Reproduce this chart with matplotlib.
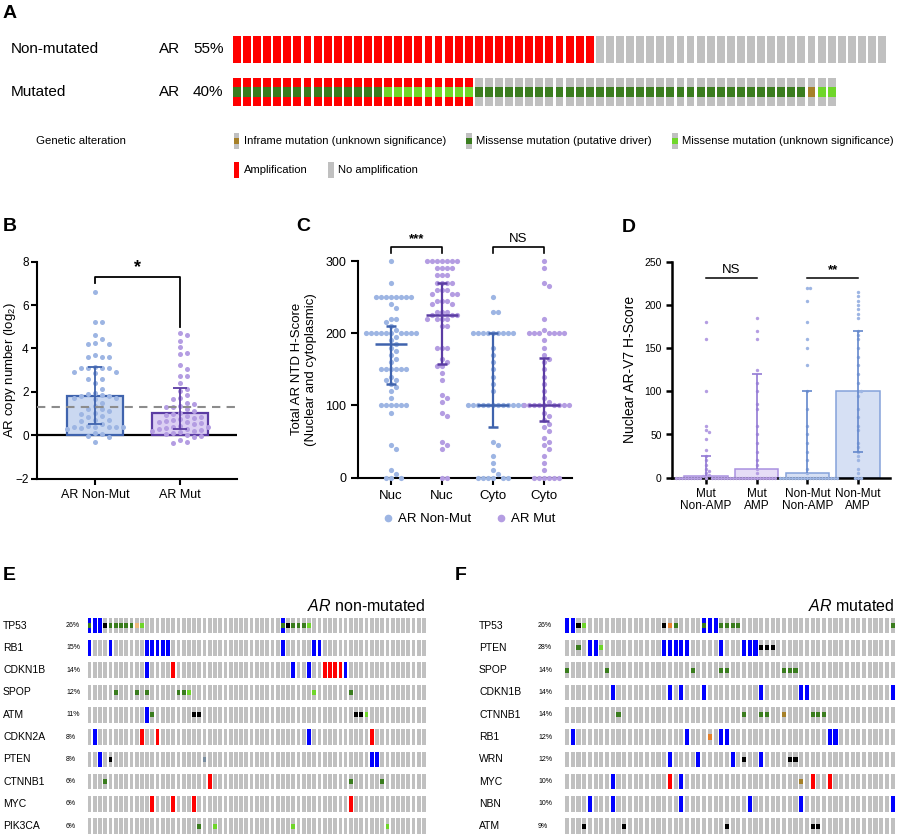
import matplotlib
matplotlib.use("Agg")
import matplotlib.pyplot as plt
import matplotlib.transforms as mtransforms
from matplotlib.patches import Rectangle
from matplotlib.lines import Line2D
import numpy as np

plt.rcParams['font.family'] = ['Liberation Sans', 'DejaVu Sans']
plt.rcParams['mathtext.fontset'] = 'custom'
plt.rcParams['mathtext.rm'] = 'Liberation Sans'
plt.rcParams['mathtext.it'] = 'Liberation Sans:italic'

W, H = 900, 838

# ------------------------------------------------------------------
# data
# ------------------------------------------------------------------

# A: AR oncoprint
a_rows = ['Non-mutated', 'Mutated']
a_pcts = ['55%', '40%']
a_samples = [65, 60]
a_amp = [36, 24]
a_mut_row = 'M' * 15 + 'V' * 9 + 'M' * 33 + 'I' + 'V' * 2   # mutated cohort, per sample

# B: AR copy number (log2)
b_groups = ['AR Non-Mut', 'AR Mut']
b_nonmut = [6.6, 5.2, 5.2, 4.6, 4.45, 4.25, 4.2, 4.2, 3.7, 3.6, 3.6, 3.6, 3.15, 3.1, 3.1,
            3.1, 3.1, 2.9, 2.9, 2.85, 2.6, 2.6, 2.4, 2.15, 1.95, 1.9, 1.85, 1.8, 1.8, 1.7,
            1.7, 1.65, 1.5, 1.35, 1.2, 1.2, 1.1, 1.05, 1.0, 0.9, 0.85, 0.7, 0.7, 0.65, 0.5,
            0.45, 0.4, 0.4, 0.4, 0.4, 0.4, 0.35, 0.3, 0.1, 0.05, -0.05, -0.1, -0.3]
b_mut = [4.7, 4.6, 4.35, 4.05, 3.8, 3.75, 3.25, 3.05, 2.75, 2.75, 2.4, 2.15, 2.05, 1.85,
         1.7, 1.65, 1.5, 1.45, 1.35, 1.3, 1.3, 1.2, 1.1, 1.05, 1.0, 0.95, 0.9, 0.85, 0.8,
         0.75, 0.7, 0.65, 0.6, 0.6, 0.55, 0.5, 0.45, 0.4, 0.4, 0.35, 0.3, 0.3, 0.25, 0.2,
         0.2, 0.15, 0.1, 0.05, 0.0, -0.05, -0.1, -0.2, -0.3, -0.35]
b_bar = [1.8, 1.03]
b_lo = [0.52, 0.27]
b_hi = [3.15, 2.2]
b_cutoff = 1.3

# C: total AR NTD H-score
c_labels = ['Nuc', 'Nuc', 'Cyto', 'Cyto']
c_nuc_nonmut = [300, 270, 250, 250, 250, 250, 250, 250, 250, 250, 240, 235, 220, 220, 215,
                210, 205, 200, 200, 200, 200, 200, 200, 200, 200, 200, 200, 195, 190, 185,
                180, 175, 170, 165, 160, 150, 150, 150, 150, 150, 150, 140, 135, 135, 130,
                125, 120, 110, 100, 100, 100, 100, 100, 100, 90, 45, 40, 10, 5, 0, 0, 0]
c_nuc_mut = [300, 300, 300, 300, 300, 300, 300, 290, 290, 290, 290, 280, 280, 280, 270,
             270, 270, 270, 260, 260, 260, 255, 255, 255, 245, 245, 245, 240, 240, 230,
             230, 230, 225, 225, 225, 220, 220, 220, 220, 210, 210, 180, 180, 180, 165,
             160, 155, 155, 145, 135, 115, 110, 105, 90, 85, 50, 45, 40, 0, 0]
c_cyto_nonmut = [250, 230, 230, 200, 200, 200, 200, 200, 200, 200, 200, 200, 180, 170, 160,
                 150, 140, 130, 120, 100, 100, 100, 100, 100, 100, 100, 100, 100, 100, 100,
                 100, 50, 45, 30, 20, 10, 5, 0, 0, 0, 0, 0, 0]
c_cyto_mut = [300, 290, 270, 265, 220, 205, 200, 200, 200, 200, 200, 200, 200, 190, 180,
              170, 165, 160, 150, 140, 130, 120, 110, 105, 100, 100, 100, 100, 100, 100,
              100, 100, 100, 90, 85, 80, 75, 70, 65, 55, 50, 45, 40, 30, 20, 10, 0, 0, 0,
              0, 0, 0]
c_median = [185, 225, 100, 100]
c_q1 = [130, 158, 70, 78]
c_q3 = [210, 270, 200, 166]

# D: nuclear AR-V7 H-score
d_labels = ['Mut\nNon-AMP', 'Mut\nAMP', 'Non-Mut\nNon-AMP', 'Non-Mut\nAMP']
d_mut_nonamp = [180, 160, 100, 60, 55, 53, 45, 32, 25, 20, 15, 10, 8, 5, 3, 2,
                0, 0, 0, 0, 0, 0, 0, 0, 0, 0, 0, 0, 0, 0, 0, 0, 0, 0, 0, 0]
d_mut_amp = [185, 170, 160, 125, 110, 100, 85, 80, 60, 50, 40, 30, 20, 15, 10, 5,
             0, 0, 0, 0, 0, 0, 0, 0, 0, 0, 0, 0]
d_nonmut_nonamp = [220, 220, 205, 180, 160, 150, 130, 100, 80, 60, 50, 40, 30, 20, 10, 5,
                   0, 0, 0, 0, 0, 0, 0, 0, 0, 0, 0, 0, 0, 0, 0, 0, 0, 0, 0, 0]
d_nonmut_amp = [215, 210, 205, 200, 195, 190, 185, 170, 165, 160, 150, 140, 130, 120, 110,
                100, 100, 95, 80, 70, 60, 55, 40, 35, 30, 25, 20, 10, 5, 0, 0, 0]
d_bar = [2, 10, 5, 100]
d_lo = [2, 10, 5, 30]
d_hi = [25, 120, 100, 170]

# E / F: co-alteration oncoprints
# codes: A amplification, D deep deletion, M missense (driver), V missense (VUS),
#        T truncating, S splice, P splice (VUS), I inframe (VUS), O other
e_genes = ['TP53', 'RB1', 'CDKN1B', 'SPOP', 'ATM', 'CDKN2A', 'PTEN', 'CTNNB1', 'MYC', 'PIK3CA']
e_pcts = ['26%', '15%', '14%', '12%', '11%', '8%', '8%', '6%', '6%', '6%']
e_samples = 65
e_alts = [
    {0: 'DM', 1: 'D', 2: 'D', 3: 'T', 4: 'M', 5: 'M', 6: 'M', 7: 'M', 8: 'M', 9: 'P', 10: 'V',
     37: 'DM', 38: 'T', 39: 'M', 40: 'M', 41: 'M', 42: 'V'},
    {0: 'D', 4: 'D', 11: 'D', 12: 'D', 13: 'D', 14: 'D', 15: 'D', 37: 'D', 43: 'D', 44: 'D'},
    {11: 'D', 16: 'A', 39: 'D', 42: 'D', 45: 'A', 46: 'A', 47: 'A', 48: 'A', 49: 'D'},
    {5: 'M', 9: 'M', 11: 'M', 17: 'M', 18: 'M', 19: 'V', 43: 'V', 50: 'M'},
    {11: 'D', 12: 'M', 20: 'T', 21: 'T', 51: 'T', 52: 'T', 53: 'V'},
    {1: 'D', 10: 'A', 13: 'A', 42: 'D', 54: 'A'},
    {2: 'D', 4: 'T', 22: 'O', 54: 'D', 55: 'D'},
    {3: 'M', 23: 'A', 50: 'M', 56: 'M'},
    {12: 'A', 16: 'A', 20: 'A', 50: 'A'},
    {21: 'M', 24: 'V', 39: 'V', 57: 'V'},
]
f_genes = ['TP53', 'PTEN', 'SPOP', 'CDKN1B', 'CTNNB1', 'RB1', 'WRN', 'MYC', 'NBN', 'ATM']
f_pcts = ['26%', '28%', '14%', '14%', '14%', '12%', '12%', '10%', '10%', '9%']
f_samples = 58
f_alts = [
    {0: 'D', 1: 'D', 2: 'T', 3: 'V', 17: 'T', 18: 'S', 19: 'M', 24: 'DM', 25: 'D', 26: 'D',
     27: 'M', 28: 'M', 29: 'M', 30: 'M', 57: 'M'},
    {2: 'M', 4: 'D', 5: 'D', 6: 'V', 17: 'D', 18: 'D', 19: 'D', 20: 'D', 21: 'D', 27: 'D',
     31: 'D', 32: 'D', 33: 'D', 34: 'T', 35: 'T', 36: 'T'},
    {0: 'M', 7: 'M', 22: 'M', 27: 'M', 28: 'M', 38: 'M', 39: 'M', 40: 'M'},
    {8: 'D', 18: 'D', 20: 'D', 24: 'D', 34: 'D', 41: 'D', 42: 'D', 57: 'D'},
    {9: 'M', 31: 'M', 34: 'M', 35: 'M', 38: 'I', 43: 'M', 44: 'M', 45: 'M'},
    {1: 'D', 21: 'D', 25: 'S', 27: 'D', 28: 'D', 46: 'D', 47: 'D'},
    {18: 'D', 23: 'D', 29: 'D', 31: 'T', 34: 'D', 39: 'T', 40: 'T'},
    {8: 'D', 18: 'A', 20: 'D', 41: 'I', 43: 'A', 46: 'A'},
    {4: 'D', 8: 'D', 20: 'D', 32: 'D', 41: 'D', 57: 'D'},
    {3: 'T', 10: 'T', 28: 'T', 43: 'T', 44: 'T'},
]

legend_row1 = [('I', 'Inframe mutation (unknown significance)'),
               ('M', 'Missense mutation (putative driver)'),
               ('V', 'Missense mutation (unknown significance)')]
legend_row2 = [('A', 'Amplification'), ('', 'No amplification')]

# ------------------------------------------------------------------
GREY = '#c0c0c0'
CNA_COL = {'A': '#ff0000', 'D': '#0000ff'}
MUT_COL = {'M': '#3a7d1e', 'V': '#6fd62a', 'T': '#000000', 'S': '#e5802b',
           'P': '#f0b87b', 'I': '#a68028', 'O': '#7a8ea0'}
BLUE_DOT, PURP_DOT = '#9db5e3', '#b49de2'
BLUE_DARK, PURP_DARK = '#3f63ad', '#5b3ca3'


def px_axes(l, t, r, b):
    return fig.add_axes([l / W, 1 - b / H, (r - l) / W, (b - t) / H])


def swarm(vals, xppu, yppu, dx, dy):
    vals = np.asarray(vals, float)
    order = np.argsort(-vals, kind='stable')
    placed = []
    offs = np.zeros(len(vals))
    for i in order:
        y = vals[i] * yppu
        for k in range(400):
            cand = ((k + 1) // 2) * dx * (1 if k % 2 else -1)
            if all(abs(py - y) >= dy or abs(px - cand) >= dx * 0.999 for px, py in placed):
                break
        placed.append((cand, y))
        offs[i] = cand / xppu
    return offs


def oncoprint(ax, n, rows, bw, bh):
    xs, ys, cs, mx, my, mc = [], [], [], [], [], []
    for r, alts in enumerate(rows):
        for c in range(n):
            code = alts.get(c, '')
            base = GREY
            for ch in code:
                if ch in CNA_COL:
                    base = CNA_COL[ch]
                if ch in MUT_COL:
                    mx.append(c); my.append(r); mc.append(MUT_COL[ch])
            xs.append(c); ys.append(r); cs.append(base)
    ax.bar(xs, bh, bottom=np.array(ys) - bh / 2, width=bw, color=cs, linewidth=0)
    if mx:
        ax.bar(mx, bh / 3, bottom=np.array(my) - bh / 6, width=bw, color=mc, linewidth=0)
    ax.set_xlim(-0.5, n - 0.5)
    ax.set_ylim(len(rows) - 0.5, -0.5)
    ax.axis('off')


def style_axis(ax, lw=1.5, tl=4):
    for s in ['top', 'right']:
        ax.spines[s].set_visible(False)
    for s in ['left', 'bottom']:
        ax.spines[s].set_linewidth(lw)
    ax.tick_params(width=lw, length=tl, color='black')


fig = plt.figure(figsize=(W / 100, H / 100), dpi=100)
ov = fig.add_axes([0, 0, 1, 1])
ov.set_xlim(0, W)
ov.set_ylim(H, 0)
ov.axis('off')

# panel letters
for lab, x, y in [('A', 3, 14), ('B', 3, 226), ('C', 296, 226), ('D', 622, 227),
                  ('E', 3, 575), ('F', 455, 575)]:
    ov.text(x, y, lab, fontsize=14, fontweight='bold', va='center', ha='left')

# ------------------------------------------------------------------ A
pitch_a = 10.08
left_a = 231.9
axA = px_axes(left_a, 28.2, left_a + pitch_a * max(a_samples), 113.3)
rows_a = [{i: 'A' for i in range(a_amp[0])}, {}]
for i, ch in enumerate(a_mut_row):
    rows_a[1][i] = ('A' if i < a_amp[1] else '') + ch
oncoprint(axA, max(a_samples), rows_a, 0.78, 0.64)
# mask columns beyond the mutated cohort
axA.bar(np.arange(a_samples[1], a_samples[0]), 0.7, bottom=1 - 0.35, width=1.0,
        color='white', linewidth=0)
for r, (name, pct) in enumerate(zip(a_rows, a_pcts)):
    y = 49 + 42.5 * r
    ov.text(11, y, name, fontsize=11, va='center')
    ov.text(159, y, 'AR', fontsize=11, va='center')
    ov.text(193, y, pct, fontsize=11, va='center')

ov.text(36, 141, 'Genetic alteration', fontsize=8.2, va='center')
for (code, label), xb in zip(legend_row1, [233.5, 466, 672]):
    ov.add_patch(Rectangle((xb, 133), 5.5, 16, color=GREY, lw=0))
    ov.add_patch(Rectangle((xb, 138.3), 5.5, 5.4, color=MUT_COL[code], lw=0))
    ov.text(xb + 10, 141, label, fontsize=8.1, va='center')
for (code, label), xb in zip(legend_row2, [233.5, 328]):
    ov.add_patch(Rectangle((xb, 162), 5.5, 16, color=CNA_COL.get(code, GREY), lw=0))
    ov.text(xb + 10, 170, label, fontsize=8.1, va='center')

# ------------------------------------------------------------------ B
axB = px_axes(37, 261.7, 237, 478.7)
edge_b = [BLUE_DARK, PURP_DARK]
face_b = ['#cad8f1', '#dcd0f3']
dots_b = [BLUE_DOT, PURP_DOT]
axB.bar([0, 1], b_bar, width=0.66, color=face_b, edgecolor=edge_b, linewidth=1.6, zorder=1)
for i, vals in enumerate([b_nonmut, b_mut]):
    offs = swarm(vals, 85, 21.7, 7.0, 5.5)
    axB.scatter(i + offs, vals, s=13, color=dots_b[i], linewidths=0, zorder=2)
    axB.errorbar(i, b_bar[i], yerr=[[b_bar[i] - b_lo[i]], [b_hi[i] - b_bar[i]]],
                 color=edge_b[i], capsize=5, elinewidth=1.3, capthick=1.3, zorder=3)
axB.axhline(0, color='black', lw=1.6, zorder=0)
axB.axhline(b_cutoff, color='#8c8c8c', lw=1.5, ls=(0, (4, 3)), zorder=4)
axB.set_xlim(-0.68, 1.67)
axB.set_ylim(-2, 8)
axB.set_yticks([-2, 0, 2, 4, 6, 8])
axB.set_xticks([0, 1])
axB.set_xticklabels(b_groups, fontsize=9)
axB.tick_params(axis='y', labelsize=8.5, pad=2)
style_axis(axB)
axB.set_ylabel('AR copy number (log$_2$)', fontsize=9.5)
axB.yaxis.set_label_coords(-0.095, 0.5)
axB.plot([0, 0, 1, 1], [7.0, 7.3, 7.3, 5.0], color='black', lw=1.3, clip_on=False)
axB.text(0.5, 7.35, '*', ha='center', va='bottom', fontsize=13, fontweight='bold')

# ------------------------------------------------------------------ C
axC = px_axes(358, 261, 572, 477.7)
c_sets = [c_nuc_nonmut, c_nuc_mut, c_cyto_nonmut, c_cyto_mut]
for i, vals in enumerate(c_sets):
    dc = BLUE_DOT if i % 2 == 0 else PURP_DOT
    lc = BLUE_DARK if i % 2 == 0 else PURP_DARK
    offs = swarm(vals, 51, 0.7223, 5.0, 4.6)
    axC.scatter(i + offs, vals, s=14, color=dc, linewidths=0, zorder=4, clip_on=False)
    axC.hlines(c_median[i], i - 0.32, i + 0.32, color=lc, lw=1.8, zorder=5)
    axC.hlines([c_q1[i], c_q3[i]], i - 0.1, i + 0.1, color=lc, lw=1.8, zorder=5)
    axC.vlines(i, c_q1[i], c_q3[i], color=lc, lw=1.6, zorder=5)
axC.set_xlim(-0.65, 3.55)
axC.set_ylim(0, 300)
axC.set_yticks([0, 100, 200, 300])
axC.set_xticks(range(4))
axC.set_xticklabels(c_labels, fontsize=9.5)
axC.tick_params(axis='y', labelsize=9)
style_axis(axC, tl=5)
axC.set_ylabel('Total AR NTD H-Score\n(Nuclear and cytoplasmic)', fontsize=9.5, labelpad=6)
for (a, b), lab in [((0, 1), '***'), ((2, 3), 'NS')]:
    axC.plot([a, a, b, b], [311, 320, 320, 311], color='black', lw=1.2, clip_on=False)
    axC.text((a + b) / 2, 322, lab, ha='center', va='bottom', fontsize=9.5,
             fontweight='bold' if lab.startswith('*') else 'normal')
handles = [Line2D([], [], ls='', marker='o', ms=4.5, color=BLUE_DOT, label='AR Non-Mut'),
           Line2D([], [], ls='', marker='o', ms=4.5, color=PURP_DOT, label='AR Mut')]
fig.legend(handles=handles, loc='center left', bbox_to_anchor=(368 / W, 1 - 519 / H),
           ncol=2, frameon=False, fontsize=9.5, handletextpad=0.2, columnspacing=1.6,
           handlelength=1.2)

# ------------------------------------------------------------------ D
axD = px_axes(672, 261.7, 890, 477.7)
d_sets = [d_mut_nonamp, d_mut_amp, d_nonmut_nonamp, d_nonmut_amp]
d_face = ['#e6ddf6', '#e6ddf6', '#d6e0f4', '#d6e0f4']
d_edge = ['#a991e0', '#a991e0', '#85a2da', '#85a2da']
d_dot = [PURP_DOT, PURP_DOT, BLUE_DOT, BLUE_DOT]
d_err = ['#9279d4', '#9279d4', '#6488cc', '#6488cc']
axD.bar(range(4), d_bar, width=0.86, color=d_face, edgecolor=d_edge, linewidth=1.1, zorder=1)
for i, vals in enumerate(d_sets):
    offs = swarm(vals, 50.7, 0.864, 3.0, 2.6)
    axD.scatter(i + offs, vals, s=6, color=d_dot[i], linewidths=0, zorder=4, clip_on=False)
    axD.vlines(i, d_lo[i], d_hi[i], color=d_err[i], lw=1.2, zorder=5)
    axD.hlines(d_hi[i], i - 0.1, i + 0.1, color=d_err[i], lw=1.2, zorder=5)
    if d_lo[i] < d_bar[i]:
        axD.hlines(d_lo[i], i - 0.1, i + 0.1, color=d_err[i], lw=1.2, zorder=5)
axD.set_xlim(-0.67, 3.63)
axD.set_ylim(0, 250)
axD.set_yticks([0, 50, 100, 150, 200, 250])
axD.set_xticks(range(4))
axD.set_xticklabels(d_labels, fontsize=8.5, linespacing=1.0)
axD.tick_params(axis='y', labelsize=7.5)
style_axis(axD, lw=1.8, tl=4)
axD.set_ylabel('Nuclear AR-V7 H-Score', fontsize=10, labelpad=5)
for (a, b), lab in [((0, 1), 'NS'), ((2, 3), '**')]:
    axD.plot([a, b], [231, 231], color='black', lw=1.1, clip_on=False)
    axD.text((a + b) / 2, 233, lab, ha='center', va='bottom', fontsize=9.5,
             fontweight='bold' if lab.startswith('*') else 'normal')

# ------------------------------------------------------------------ E / F
for genes, pcts, n, alts, l, r, xg, xp, title in [
        (e_genes, e_pcts, e_samples, e_alts, 87.0, 426.6, 3, 66, r'$\it{AR}$ non-mutated'),
        (f_genes, f_pcts, f_samples, f_alts, 564.2, 895.5, 479, 538, r'$\it{AR}$ mutated')]:
    ax = px_axes(l, 614.4, r, 837.4)
    oncoprint(ax, n, alts, 0.72, 0.70)
    tr = mtransforms.blended_transform_factory(ov.transData, ax.transData)
    for k, (g, p) in enumerate(zip(genes, pcts)):
        ax.text(xg, k, g, transform=tr, fontsize=7.5, va='center', ha='left')
        ax.text(xp, k, p, transform=tr, fontsize=5, va='center', ha='left')
    ov.text(r - 1, 606, title, fontsize=11.5, ha='right', va='center')

fig.savefig('out.png', dpi=100)
